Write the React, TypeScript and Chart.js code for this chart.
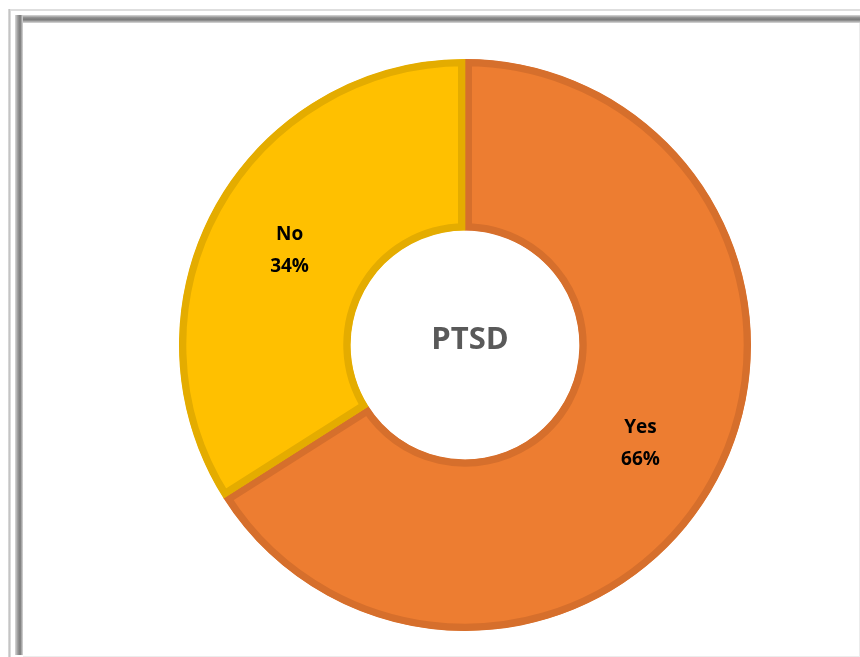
import React, { useEffect, useRef } from "react";
import { Chart, registerables } from "chart.js";

Chart.register(...registerables);

const categories = ["Yes", "No"];
const values = [66, 34];
const fillColors = ["#ED7D31", "#FFC000"];
const borderColors = ["#D66F2C", "#E4AC00"];
const centerTitle = "PTSD";

const labelPlugin = {
  id: "sliceLabels",
  afterDatasetsDraw(chart: any) {
    const ctx = chart.ctx;
    const meta = chart.getDatasetMeta(0);
    const data = chart.data.datasets[0].data as number[];
    const total = data.reduce((a: number, b: number) => a + b, 0);
    ctx.save();
    ctx.fillStyle = "#000000";
    ctx.font = "bold 19px 'Open Sans'";
    ctx.textAlign = "center";
    ctx.textBaseline = "middle";
    meta.data.forEach((arc: any, i: number) => {
      const p = arc.tooltipPosition();
      const pct = Math.round((data[i] / total) * 100) + "%";
      ctx.fillText(String(chart.data.labels[i]), p.x, p.y - 14);
      ctx.fillText(pct, p.x, p.y + 18);
    });
    const a0 = meta.data[0];
    ctx.fillStyle = "#595959";
    ctx.font = "bold 31px 'Open Sans'";
    ctx.fillText(centerTitle, a0.x + 5, a0.y - 5);
    ctx.restore();
  },
};

export default function App() {
  const ref = useRef<HTMLCanvasElement>(null);
  useEffect(() => {
    if (!ref.current) return;
    const chart = new Chart(ref.current, {
      type: "doughnut",
      data: {
        labels: categories,
        datasets: [
          {
            data: values,
            backgroundColor: fillColors,
            borderColor: borderColors,
            borderWidth: 7,
            borderAlign: "inner",
          },
        ],
      },
      options: {
        responsive: false,
        animation: false,
        cutout: "40%",
        layout: { padding: 0 },
        plugins: { legend: { display: false }, tooltip: { enabled: false } },
      },
      plugins: [labelPlugin],
    });
    return () => chart.destroy();
  }, []);

  return (
    <div style={{ position: "fixed", left: 0, top: 0, width: 860, height: 657, background: "#fff", overflow: "hidden" }}>
      <div style={{ position: "absolute", left: 8, top: 9, width: 852, height: 2, background: "#dedede" }} />
      <div style={{ position: "absolute", left: 8, top: 9, width: 3, height: 648, background: "linear-gradient(to right, #e0e0e0, #c4c4c4, #e6e6e6)" }} />
      <div style={{ position: "absolute", left: 15, top: 15, width: 845, height: 8, background: "linear-gradient(to bottom, #d9d9d9, #8a8a8a 35%, #7a7a7a 60%, #dadada)" }} />
      <div style={{ position: "absolute", left: 15, top: 15, width: 8, height: 640, background: "linear-gradient(to right, #d9d9d9, #9a9a9a 35%, #7a7a7a 65%, #dadada)" }} />
      <div style={{ position: "absolute", left: 859, top: 23, width: 1, height: 634, background: "#ececec" }} />
      <div style={{ position: "absolute", left: 23, top: 656, width: 837, height: 1, background: "#ececec" }} />
      <canvas ref={ref} width={572} height={572} style={{ position: "absolute", left: 179, top: 59, width: 572, height: 572 }} />
    </div>
  );
}
